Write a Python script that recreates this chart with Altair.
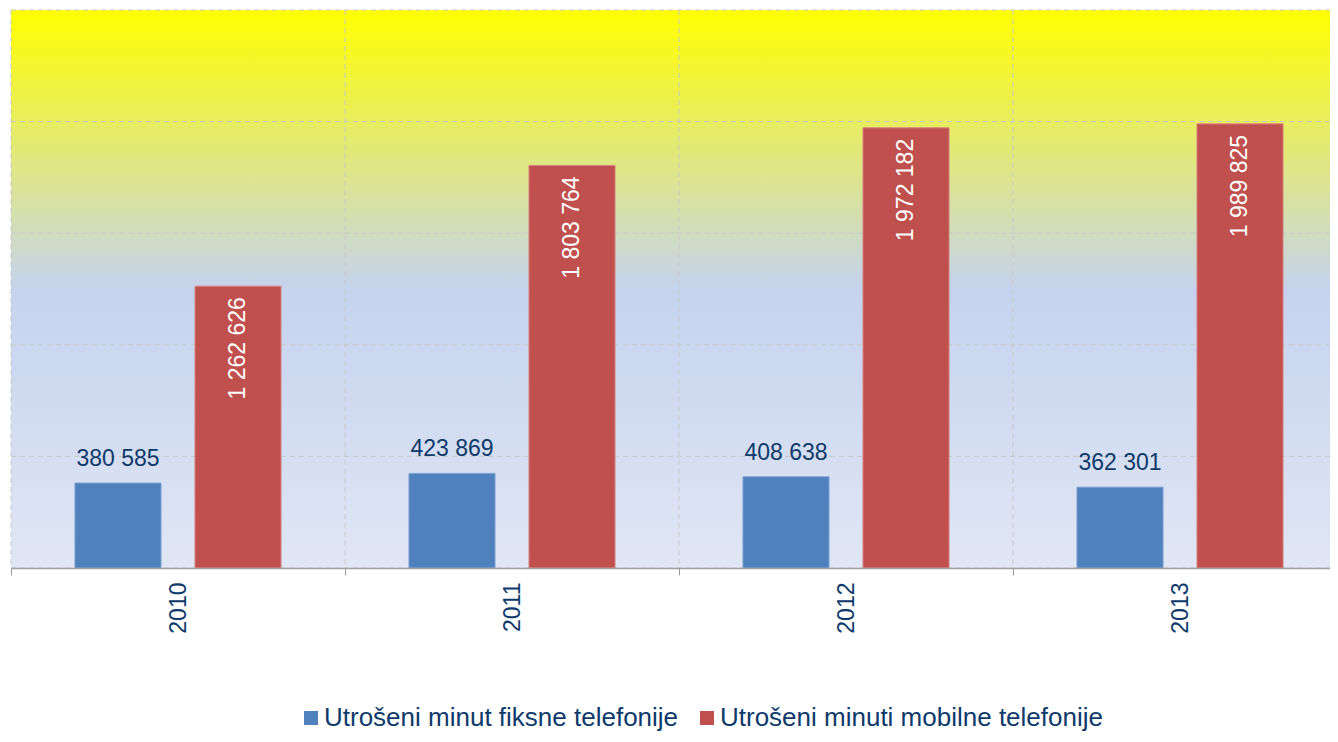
import altair as alt
import pandas as pd

years = ["2010", "2011", "2012", "2013"]
fixed = [380585, 423869, 408638, 362301]
mobile = [1262626, 1803764, 1972182, 1989825]
series_names = ["Utrošeni minut fiksne telefonije", "Utrošeni minuti mobilne telefonije"]
colors = ["#4F81BD", "#C0504D"]
edge_colors = ["#7FA1D1", "#D88583"]
y_ticks = [0, 500000, 1000000, 1500000, 2000000, 2500000]

NAVY = "#0E3A6B"
FONT = "Liberation Sans, Arial, sans-serif"
W, H = 1319, 558          # visible plot area (page is 1338 wide)
FULL_W = 1336             # full band extent of the original chart (right part is cut off)
GRID = "#C8C8C8"

rows = []
for i, yr in enumerate(years):
    for s, vals in zip(series_names, [fixed, mobile]):
        v = vals[i]
        rows.append({"year": yr, "series": s, "value": v,
                     "label": f"{v:,}".replace(",", " ")})
df = pd.DataFrame(rows)

xscale = alt.Scale(domain=years, paddingInner=0, paddingOuter=0, range=[0, FULL_W])
yscale = alt.Scale(domain=[0, 2500000], nice=False, zero=True)

x_axis = alt.Axis(labelAngle=270, labelFontSize=23, labelColor=NAVY, labelFont=FONT,
                  tickBand="extent", grid=False,
                  tickSize=7, tickColor="#9A9A9A", domainColor="#A0A0A0", domainWidth=1.5,
                  labelPadding=7, zindex=1)

x = alt.X("year:N", sort=years, title="", scale=xscale, axis=x_axis)
xo = alt.XOffset("series:N", sort=series_names,
                 scale=alt.Scale(domain=series_names, paddingInner=0.283, paddingOuter=0.533))
y = alt.Y("value:Q", title="", scale=yscale, axis=None)

gradient = alt.LinearGradient(
    gradient="linear", x1=0, y1=0, x2=0, y2=1,
    stops=[
        alt.GradientStop(offset=0, color="#FFFF00"),
        alt.GradientStop(offset=0.5, color="#C5D3EE"),
        alt.GradientStop(offset=1, color="#E0E6F4"),
    ],
)

background = alt.Chart(pd.DataFrame({"a": [0]})).mark_rect(color=gradient).encode(
    x=alt.value(0), x2=alt.value(W), y=alt.value(0), y2=alt.value(H)
)

hgrid = alt.Chart(pd.DataFrame({"v": y_ticks})).mark_rule(
    color=GRID, strokeDash=[5, 4], strokeWidth=1
).encode(y=alt.Y("v:Q", scale=yscale, axis=None),
         x=alt.value(0), x2=alt.value(W))

vgrid = alt.Chart(pd.DataFrame({"year": years})).mark_rule(
    color=GRID, strokeDash=[5, 4], strokeWidth=1
).encode(x=alt.X("year:N", sort=years, title="", scale=xscale, bandPosition=0, axis=x_axis))

bars = alt.Chart(df).mark_bar(strokeWidth=1).encode(
    x=x, xOffset=xo, y=y,
    color=alt.Color("series:N", sort=series_names,
                    scale=alt.Scale(domain=series_names, range=colors),
                    legend=alt.Legend(title=None, orient="none", legendX=287, legendY=695,
                                      direction="horizontal", symbolType="square",
                                      symbolSize=196, symbolStrokeWidth=0,
                                      labelFontSize=26, labelColor=NAVY, labelFont=FONT,
                                      labelLimit=1000, columnPadding=15, labelOffset=0,
                                      padding=0)),
    stroke=alt.Stroke("series:N", scale=alt.Scale(domain=series_names, range=edge_colors),
                      legend=None),
)

fixed_labels = alt.Chart(df).transform_filter(
    alt.datum.series == series_names[0]
).mark_text(baseline="alphabetic", dy=-17, fontSize=23, font=FONT, color=NAVY).encode(
    x=x, xOffset=xo, y=y, text="label:N"
)

mobile_labels = alt.Chart(df).transform_filter(
    alt.datum.series == series_names[1]
).mark_text(angle=270, align="right", baseline="middle", dx=-11, fontSize=23,
            font=FONT, color="white").encode(
    x=x, xOffset=xo, y=y, text="label:N"
)

chart = alt.layer(background, hgrid, vgrid, bars, fixed_labels, mobile_labels).properties(
    width=W, height=H,
    padding={"left": 3, "top": 2, "right": 0, "bottom": 166},
    autosize=alt.AutoSizeParams(type="none"),
).configure_view(strokeWidth=0)

chart.save("out.html", embed_options={"renderer": "svg", "actions": False})
